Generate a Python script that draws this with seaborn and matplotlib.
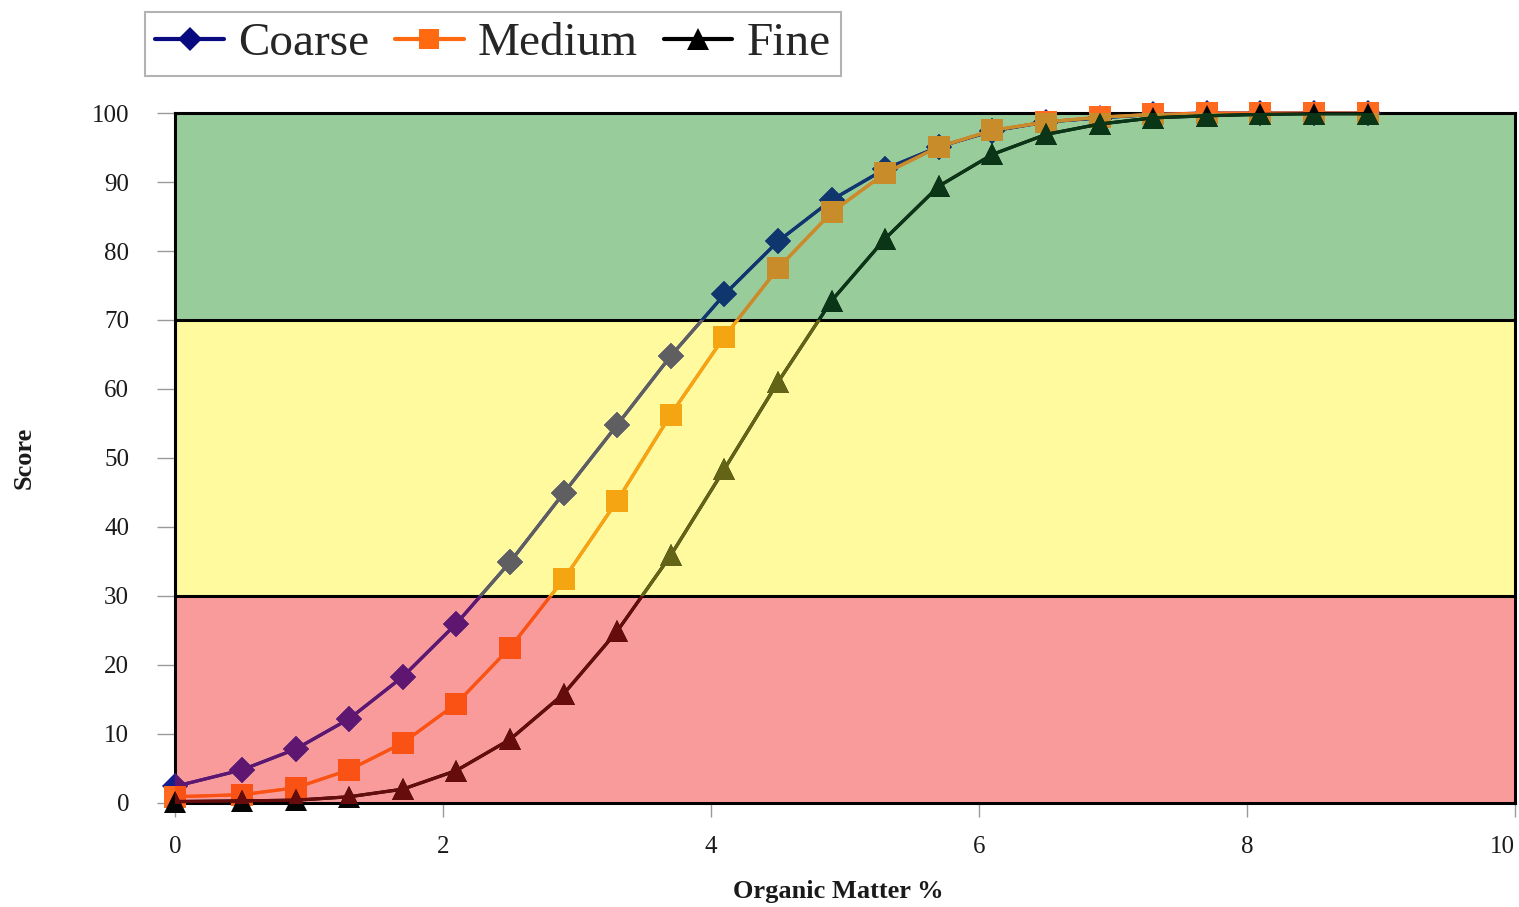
import matplotlib
matplotlib.use("Agg")
import matplotlib.pyplot as plt
import seaborn as sns
from matplotlib.lines import Line2D

# Organic matter content (%) at which each texture curve is evaluated
organic_matter = [0.0, 0.5, 0.9, 1.3, 1.7, 2.1, 2.5, 2.9, 3.3, 3.7, 4.1, 4.5,
                  4.9, 5.3, 5.7, 6.1, 6.5, 6.9, 7.3, 7.7, 8.1, 8.5, 8.9]

# Scoring curves by soil texture
coarse = [2.4, 4.8, 7.8, 12.2, 18.3, 26.0, 34.9, 44.9, 54.8, 64.8, 73.7, 81.4,
          87.4, 91.9, 95.1, 97.4, 98.7, 99.3, 99.8, 100.0, 100.0, 100.0, 100.0]
medium = [0.9, 1.2, 2.2, 4.8, 8.7, 14.4, 22.5, 32.4, 43.8, 56.3, 67.6, 77.5,
          85.6, 91.3, 95.1, 97.5, 98.7, 99.4, 99.8, 100.0, 100.0, 100.0, 100.0]
fine = [0.2, 0.3, 0.4, 0.9, 2.0, 4.7, 9.2, 15.8, 24.9, 35.9, 48.4, 61.0,
        72.8, 81.8, 89.4, 94.0, 96.9, 98.4, 99.3, 99.6, 99.8, 99.9, 99.9]

series_names = ["Coarse", "Medium", "Fine"]
series_values = [coarse, medium, fine]

# Score bands: low / intermediate / high
band_edges = [0, 30, 70, 100]
x_ticks = [0, 2, 4, 6, 8, 10]
y_ticks = [0, 10, 20, 30, 40, 50, 60, 70, 80, 90, 100]

band_colors = ["#F99B9B", "#FEFA9D", "#99CC9B"]

# Curve colours as seen over white, then over the red, yellow and green bands
curve_styles = {
    "Coarse": dict(marker="D", ms=13, legend="#0A0A80",
                   tints=["#141E8C", "#5E1670", "#5F5F62", "#0F376E"]),
    "Medium": dict(marker="s", ms=15.5, legend="#FF6A10",
                   tints=["#FF6A1E", "#FA5214", "#F5A512", "#C88C2A"]),
    "Fine": dict(marker="^", ms=16.5, legend="#000000",
                 tints=["#050505", "#660C0C", "#646416", "#0A3516"]),
}
LINE_W = 2.3

sns.set_theme(style="white")
plt.rcParams["font.family"] = ["Liberation Serif", "DejaVu Serif"]

fig = plt.figure(figsize=(15.19, 9.07), dpi=100)
ax = fig.add_axes([0.1152, 0.1147, 0.8822, 0.7607])
ax.set_xlim(0, 10)
ax.set_ylim(0, 100)

band_patches = []
for lo, hi, col in zip(band_edges[:-1], band_edges[1:], band_colors):
    band_patches.append(ax.axhspan(lo, hi, color=col, lw=0, zorder=0))
for edge in band_edges[1:-1]:
    ax.axhline(edge, color="black", lw=2.2, zorder=1)

for i, (name, vals) in enumerate(zip(series_names, series_values)):
    st = curve_styles[name]
    base_z = 3 + 2 * i
    # full curve (visible where it leaves the banded area)
    sns.lineplot(x=organic_matter, y=vals, ax=ax, color=st["tints"][0],
                 marker=st["marker"], markersize=st["ms"], markeredgewidth=0,
                 linewidth=LINE_W, legend=False, clip_on=False, zorder=base_z)
    # the same curve tinted by each band it crosses
    for patch, tint in zip(band_patches, st["tints"][1:]):
        sns.lineplot(x=organic_matter, y=vals, ax=ax, color=tint,
                     marker=st["marker"], markersize=st["ms"],
                     markeredgewidth=0, linewidth=LINE_W, legend=False,
                     zorder=base_z + 1)
        ax.lines[-1].set_clip_path(patch)

for side in ["left", "right", "top", "bottom"]:
    ax.spines[side].set_visible(True)
    ax.spines[side].set_color("black")
    ax.spines[side].set_linewidth(2.2)
    ax.spines[side].set_zorder(2)

ax.set_xticks(x_ticks)
ax.set_yticks(y_ticks)
ax.set_xticklabels([str(v) for v in x_ticks])
ax.set_yticklabels([str(v) for v in y_ticks])
ax.tick_params(axis="y", which="major", direction="out", length=13, width=1,
               color="#9A9A9A", labelsize=18, labelcolor="#1A1A1A", pad=20,
               left=True)
ax.tick_params(axis="x", which="major", direction="out", length=10, width=1,
               color="#9A9A9A", labelsize=18, labelcolor="#1A1A1A", pad=14,
               bottom=True)
# keep the last x label inside the figure edge
ax.get_xticklabels()[-1].set_horizontalalignment("right")

ax.set_xlabel("Organic Matter %", fontsize=19, fontweight="bold",
              color="#1A1A1A")
ax.xaxis.set_label_coords(0.495, -0.111)
ax.set_ylabel("Score", fontsize=19, fontweight="bold", color="#1A1A1A")
ax.yaxis.set_label_coords(-0.104, 0.5)

handles = [Line2D([0], [0], color=curve_styles[n]["legend"], lw=3,
                  marker=curve_styles[n]["marker"],
                  markersize=curve_styles[n]["ms"] * 0.95, markeredgewidth=0)
           for n in series_names]
leg = fig.legend(handles, series_names, loc="upper left",
                 bbox_to_anchor=(0.0955, 0.987), ncol=3, fontsize=34,
                 frameon=True, fancybox=False, handlelength=1.45,
                 handletextpad=0.3, columnspacing=0.55, borderpad=0.22,
                 borderaxespad=0)
leg.get_frame().set_edgecolor("#A0A0A0")
leg.get_frame().set_linewidth(1.5)
leg.get_frame().set_facecolor("white")

fig.savefig("out.png", dpi=100)
